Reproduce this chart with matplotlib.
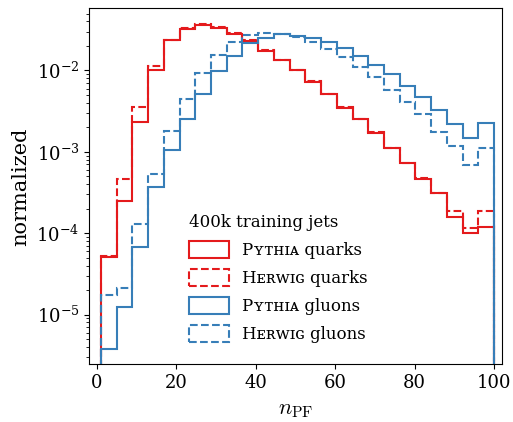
import numpy as np
import matplotlib
matplotlib.use("Agg")
from matplotlib import pyplot as plt

# bin edges of the n_PF histograms
edges = np.linspace(1, 100, 26)

# normalized bin contents
pythia_quarks = [5.15e-5, 2.50e-4, 2.32e-3, 1.02e-2, 2.34e-2, 3.23e-2, 3.65e-2, 3.33e-2,
                 2.83e-2, 2.28e-2, 1.75e-2, 1.35e-2, 1.00e-2, 7.12e-3, 5.07e-3, 3.48e-3,
                 2.52e-3, 1.70e-3, 1.11e-3, 7.27e-4, 4.66e-4, 3.11e-4, 1.60e-4, 1.02e-4, 1.19e-4]
herwig_quarks = [5.26e-5, 4.66e-4, 3.51e-3, 1.14e-2, 2.40e-2, 3.33e-2, 3.72e-2, 3.38e-2,
                 2.88e-2, 2.34e-2, 1.80e-2, 1.33e-2, 1.01e-2, 7.33e-3, 5.13e-3, 3.58e-3,
                 2.55e-3, 1.73e-3, 1.13e-3, 7.38e-4, 4.79e-4, 3.16e-4, 1.85e-4, 1.17e-4, 1.85e-4]
pythia_gluons = [3.74e-6, 1.25e-5, 6.68e-5, 3.71e-4, 1.04e-3, 2.55e-3, 5.17e-3, 9.77e-3,
                 1.52e-2, 2.16e-2, 2.49e-2, 2.81e-2, 2.65e-2, 2.49e-2, 2.22e-2, 1.89e-2,
                 1.52e-2, 1.17e-2, 8.98e-3, 6.53e-3, 4.71e-3, 3.29e-3, 2.20e-3, 1.49e-3, 2.23e-3]
herwig_gluons = [1.74e-5, 2.14e-5, 1.31e-4, 5.36e-4, 1.78e-3, 4.49e-3, 9.29e-3, 1.56e-2,
                 2.21e-2, 2.75e-2, 2.88e-2, 2.84e-2, 2.56e-2, 2.23e-2, 1.82e-2, 1.45e-2,
                 1.09e-2, 8.24e-3, 5.74e-3, 4.12e-3, 2.91e-3, 1.77e-3, 1.19e-3, 6.86e-4, 1.13e-3]

# small caps generator names
labels = ["P\u028f\u1d1b\u029c\u026a\u1d00 quarks", "H\u1d07\u0280\u1d21\u026a\u0262 quarks",
          "P\u028f\u1d1b\u029c\u026a\u1d00 gluons", "H\u1d07\u0280\u1d21\u026a\u0262 gluons"]

plt.rcParams['font.family'] = ['DejaVu Serif', 'DejaVu Sans']
plt.rcParams['mathtext.fontset'] = 'cm'
plt.rcParams['font.size'] = 12

red = '#e41a1c'
blue = '#377eb8'

fig = plt.figure(figsize=(5.13, 4.22), dpi=100)
ax = fig.add_axes([0.1735, 0.1367, 0.805, 0.8436])

series = [(pythia_quarks, red, '-'), (herwig_quarks, red, '--'),
          (pythia_gluons, blue, '-'), (herwig_gluons, blue, '--')]
centers = 0.5 * (edges[1:] + edges[:-1])
for (vals, c, ls), lab in zip(series, labels):
    ax.hist(centers, bins=edges, weights=vals, histtype='step',
            color=c, ls=ls, lw=1.5, label=lab)

ax.set_yscale('log')
ax.set_xlim(-2, 102)
ax.set_ylim(2.45e-6, 0.058)
ax.set_xticks([0, 20, 40, 60, 80, 100])
ax.tick_params(labelsize=13)
ax.set_xlabel(r'$n_{\rm PF}$', fontsize=16)
ax.set_ylabel('normalized', fontsize=15)

leg = ax.legend(title='400k training jets', frameon=False, loc='upper left',
                bbox_to_anchor=(0.205, 0.465), handlelength=2.4, handleheight=1.2,
                labelspacing=0.6, alignment='left')

fig.savefig('out.png', dpi=100)
